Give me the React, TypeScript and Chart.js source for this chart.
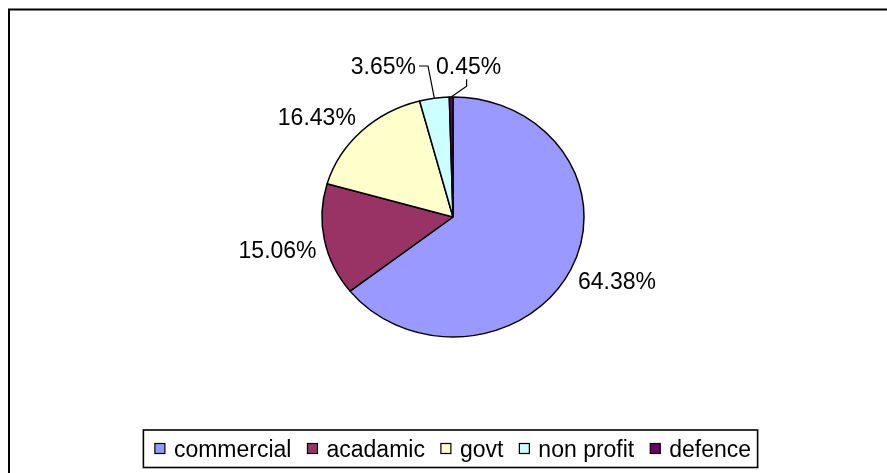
import React, { useEffect, useRef } from "react";
import { Chart, registerables } from "chart.js";

Chart.register(...registerables);

// ---- data ----
const categories = ["commercial", "acadamic", "govt", "non profit", "defence"];
const shares = [64.38, 15.06, 16.43, 3.65, 0.45];
const sliceColors = ["#9999FF", "#993366", "#FFFFCC", "#CCFFFF", "#660066"];

// ---- style ----
const FONT_FAMILY = '"Liberation Sans", Arial, sans-serif';
const FONT_SIZE = 23;
const FONT = `${FONT_SIZE}px ${FONT_FAMILY}`;
const CAP = FONT_SIZE * 0.716;
const SQUASH = 120 / 131; // vertical squash of the pie (drawn as an ellipse)

const piePlugin = {
  id: "excelPie",
  beforeDraw(chart: any) {
    const ctx = chart.ctx;
    ctx.save();
    ctx.fillStyle = "#ffffff";
    ctx.fillRect(0, 0, chart.width, chart.height);
    ctx.restore();
  },
  beforeDatasetsDraw(chart: any) {
    const arc = chart.getDatasetMeta(0).data[0];
    const ctx = chart.ctx;
    ctx.save();
    ctx.translate(arc.x, arc.y);
    ctx.scale(1, SQUASH);
    ctx.translate(-arc.x, -arc.y);
  },
  afterDatasetsDraw(chart: any) {
    const ctx = chart.ctx;
    ctx.restore();
    const meta = chart.getDatasetMeta(0);
    const values: number[] = chart.data.datasets[0].data;
    ctx.save();
    ctx.font = FONT;
    ctx.fillStyle = "#000";
    ctx.strokeStyle = "#000";
    ctx.lineWidth = 1.2;
    ctx.textAlign = "left";
    ctx.textBaseline = "alphabetic";

    const geo = meta.data.map((arc: any, i: number) => {
      const { x, y, startAngle, endAngle, outerRadius } = arc.getProps(
        ["x", "y", "startAngle", "endAngle", "outerRadius"],
        true
      );
      const mid = (startAngle + endAngle) / 2;
      const dx = Math.cos(mid);
      const dy = Math.sin(mid);
      const text = values[i].toFixed(2) + "%";
      return {
        x,
        y,
        r: outerRadius,
        dx,
        dy,
        ex: x + outerRadius * dx,
        ey: y + outerRadius * dy * SQUASH,
        text,
        w: ctx.measureText(text).width,
        small: values[i] < 5,
      };
    });

    // regular labels: outside end
    geo.forEach((g: any) => {
      if (g.small) return;
      const cx = g.ex + 8 * g.dx + Math.sign(g.dx) * (g.w / 2);
      const cy = g.ey + 8 * g.dy + Math.sign(g.dy) * (CAP / 2);
      ctx.fillText(g.text, cx - g.w / 2, cy + CAP / 2);
    });

    // small labels: in a row above the pie with leader lines
    const smalls = geo.filter((g: any) => g.small);
    if (smalls.length) {
      const g0 = smalls[0];
      const rowY = g0.y - g0.r * SQUASH - 31;
      let nextLeft = 0;
      for (let j = smalls.length - 1; j >= 0; j--) {
        const g = smalls[j];
        let left: number;
        if (j === smalls.length - 1) {
          left = g.x - 17;
          ctx.fillText(g.text, left, rowY + CAP / 2);
          const lx = left + g.w / 2 - 2;
          ctx.beginPath();
          ctx.moveTo(lx, rowY + CAP / 2 + 5);
          ctx.lineTo(lx, rowY + CAP / 2 + 12);
          ctx.lineTo(g.ex, g.ey);
          ctx.stroke();
        } else {
          const right = nextLeft - 20;
          left = right - g.w;
          ctx.fillText(g.text, left, rowY + CAP / 2);
          ctx.beginPath();
          ctx.moveTo(right + 3, rowY);
          ctx.lineTo(right + 12, rowY);
          ctx.lineTo(g.ex, g.ey);
          ctx.stroke();
        }
        nextLeft = left;
      }
    }
    ctx.restore();
  },
  afterDraw(chart: any) {
    const ctx = chart.ctx;
    const arc = chart.getDatasetMeta(0).data[0];
    const labels: string[] = chart.data.labels;
    const colors: string[] = chart.data.datasets[0].backgroundColor;
    ctx.save();
    ctx.font = FONT;
    ctx.textBaseline = "alphabetic";
    ctx.textAlign = "left";

    // legend
    const box = 10;
    const gapText = 9;
    const gapItem = 16;
    const widths = labels.map((l) => ctx.measureText(l).width);
    const total =
      widths.reduce((a, w) => a + box + gapText + w, 0) + gapItem * (labels.length - 1);
    let x = arc.x - total / 2;
    const startX = x;
    const rowY = 448.5;
    labels.forEach((l, i) => {
      ctx.fillStyle = colors[i];
      ctx.fillRect(x, rowY - box / 2, box, box);
      ctx.lineWidth = 1.2;
      ctx.strokeStyle = "#000";
      ctx.strokeRect(x, rowY - box / 2, box, box);
      ctx.fillStyle = "#000";
      ctx.fillText(l, x + box + gapText, rowY + CAP / 2);
      x += box + gapText + widths[i] + gapItem;
    });
    const endX = x - gapItem;
    ctx.lineWidth = 1.6;
    ctx.strokeStyle = "#000";
    ctx.strokeRect(startX - 11.5, 430, endX - startX + 18, 37.5);

    // chart frame (top and left edges visible)
    ctx.lineWidth = 2;
    ctx.strokeStyle = "#000";
    ctx.beginPath();
    ctx.moveTo(9, 473);
    ctx.lineTo(9, 9.5);
    ctx.lineTo(chart.width, 9.5);
    ctx.stroke();
    ctx.restore();
  },
};

export default function App() {
  const ref = useRef<HTMLCanvasElement | null>(null);

  useEffect(() => {
    if (!ref.current) return;
    const chart = new Chart(ref.current, {
      type: "pie",
      data: {
        labels: categories,
        datasets: [
          {
            data: shares,
            backgroundColor: sliceColors,
            borderColor: "#000000",
            borderWidth: 1.5,
          },
        ],
      },
      options: {
        responsive: false,
        animation: false,
        devicePixelRatio: 1,
        radius: 131,
        layout: { padding: { left: 40, right: 21, top: 20, bottom: 59 } },
        plugins: {
          legend: { display: false },
          tooltip: { enabled: false },
        },
      } as any,
      plugins: [piePlugin],
    });
    return () => chart.destroy();
  }, []);

  return (
    <div
      style={{
        position: "fixed",
        left: 0,
        top: 0,
        width: 887,
        height: 473,
        background: "#fff",
      }}
    >
      <canvas ref={ref} width={887} height={473} style={{ display: "block" }} />
    </div>
  );
}
